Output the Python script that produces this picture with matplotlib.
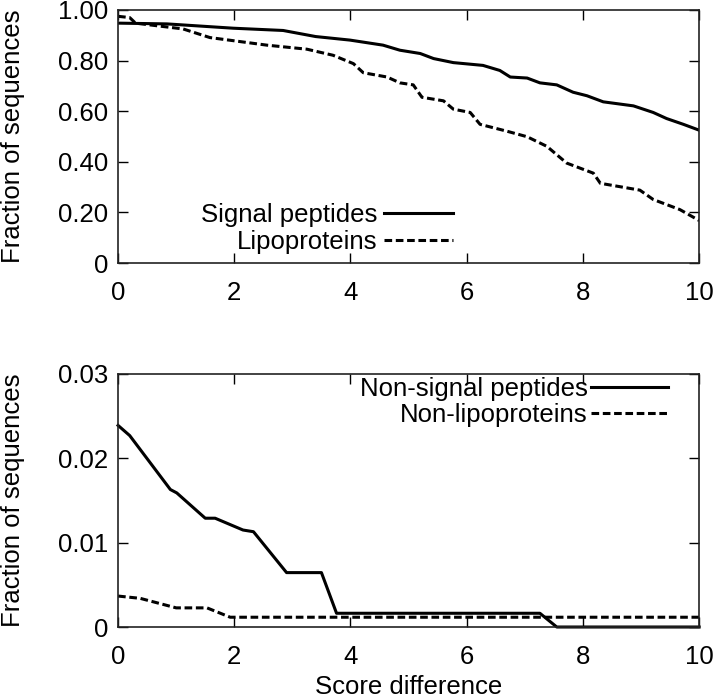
import numpy as np
import matplotlib
matplotlib.use("Agg")
import matplotlib.pyplot as plt

plt.rcParams['font.family'] = ['Liberation Sans', 'DejaVu Sans']
plt.rcParams['font.size'] = 18.5

# Данные
sig_x = [0, 0.84, 1.98, 2.84, 3.4, 3.99, 4.56, 4.85, 5.2, 5.43, 5.77, 6.28, 6.57, 6.75,
         7.04, 7.26, 7.55, 7.83, 8.07, 8.35, 8.87, 9.21, 9.44, 9.73, 10]
sig_y = [0.948, 0.945, 0.928, 0.919, 0.895, 0.881, 0.861, 0.841, 0.828, 0.808, 0.792,
         0.781, 0.761, 0.735, 0.731, 0.712, 0.704, 0.675, 0.661, 0.637, 0.621, 0.595,
         0.571, 0.548, 0.525]
lipo_x = [0, 0.2, 0.3, 1.12, 1.58, 2.56, 3.25, 3.7, 4.05, 4.22, 4.63, 4.85, 5.08, 5.23,
          5.6, 5.77, 6.06, 6.23, 6.69, 7.04, 7.38, 7.72, 8.18, 8.3, 8.98, 9.21, 9.67, 10]
lipo_y = [0.975, 0.97, 0.948, 0.925, 0.891, 0.861, 0.845, 0.821, 0.788, 0.752, 0.735,
          0.712, 0.704, 0.655, 0.641, 0.608, 0.595, 0.548, 0.521, 0.499, 0.461, 0.395,
          0.355, 0.315, 0.288, 0.251, 0.211, 0.168]

nsp_x = [0, 0.2, 0.9, 1.01, 1.5, 1.67, 2.15, 2.33, 2.9, 3.5, 3.76, 7.26, 7.55, 10]
nsp_y = [0.0239, 0.0227, 0.0163, 0.0159, 0.0129, 0.0129, 0.0115, 0.0113, 0.00645,
         0.00645, 0.00163, 0.00163, 0.0, 0.0]
nlp_x = [0, 0.38, 1.0, 1.53, 1.93, 10]
nlp_y = [0.00367, 0.0034, 0.00227, 0.00227, 0.00116, 0.00116]

x_ticks = [0, 2, 4, 6, 8, 10]
top_yticks = [0, 0.2, 0.4, 0.6, 0.8, 1.0]
top_ylabels = ['0', '0.20', '0.40', '0.60', '0.80', '1.00']
bot_yticks = [0, 0.01, 0.02, 0.03]
bot_ylabels = ['0', '0.01', '0.02', '0.03']

dash = (0, (2.5, 1.2))
lw = 2.2

fig = plt.figure(figsize=(7.2, 6.98), dpi=100)
ax1 = fig.add_axes([0.164, 0.6232, 0.807, 0.3625])
ax2 = fig.add_axes([0.164, 0.1017, 0.807, 0.3625])

def style(ax, yticks, ylabels, ylim):
    ax.set_xlim(0, 10)
    ax.set_ylim(*ylim)
    ax.set_xticks(x_ticks)
    ax.set_xticklabels([str(t) for t in x_ticks])
    ax.set_yticks(yticks)
    ax.set_yticklabels(ylabels)
    ax.tick_params(direction='in', top=True, right=True, length=7, width=1)
    ax.tick_params(axis='y', pad=7)
    ax.tick_params(axis='x', pad=13)
    for s in ax.spines.values():
        s.set_linewidth(1.2)
        s.set_color('#222222')
    ax.set_ylabel('Fraction of sequences')
    ax.yaxis.set_label_coords(-0.16, 0.5)

ax1.plot(sig_x, sig_y, color='black', lw=lw, label='Signal peptides')
ax1.plot(lipo_x, lipo_y, color='black', lw=lw, linestyle=dash, label='Lipoproteins')
style(ax1, top_yticks, top_ylabels, (0, 1.0))
ax1.legend(loc='center right', bbox_to_anchor=(0.577, 0.136), frameon=False,
           markerfirst=False, borderpad=0, borderaxespad=0, handlelength=2.7,
           handletextpad=0.25, labelspacing=0.1)

ax2.plot(nsp_x, nsp_y, color='black', lw=lw, label='Non-signal peptides', clip_on=False)
ax2.plot(nlp_x, nlp_y, color='black', lw=lw, linestyle=dash, label='Non-lipoproteins')
style(ax2, bot_yticks, bot_ylabels, (0, 0.03))
ax2.set_xlabel('Score difference', labelpad=4)
ax2.legend(loc='center right', bbox_to_anchor=(0.947, 0.89), frameon=False,
           markerfirst=False, borderpad=0, borderaxespad=0, handlelength=3.0,
           handletextpad=0.15, labelspacing=0.1)

fig.savefig('out.png', dpi=100)
